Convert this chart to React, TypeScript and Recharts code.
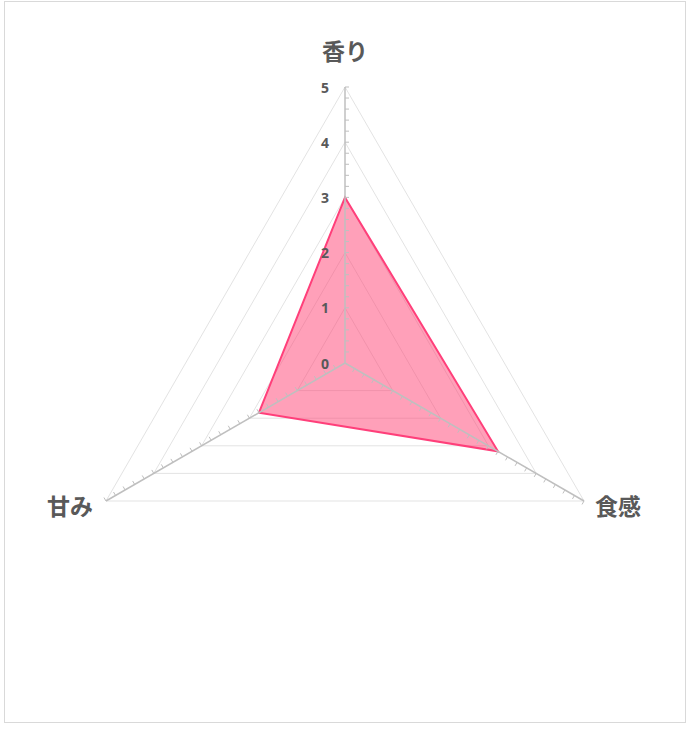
import React from "react";
import {
  PolarAngleAxis,
  PolarGrid,
  PolarRadiusAxis,
  Radar,
  RadarChart,
} from "recharts";

// categories and values (clockwise from top)
const categories: string[] = ["香り", "食感", "甘み"];
const scores: number[] = [3, 3.2, 1.8];
const majorTicks: number[] = [0, 1, 2, 3, 4, 5];
const minorStep = 0.2;

const data = categories.map((name, i) => ({ name, value: scores[i] }));

const W = 680;
const H = 720;
const CX = 340;
const CY = 361;
const R = 276;
const MAX = majorTicks[majorTicks.length - 1];

const TEXT = "#595959";
const AXIS = "#bfbfbf";
const FONT = "'Noto Sans CJK JP', 'Noto Sans', sans-serif";

const minorValues: number[] = [];
for (let i = 1; i * minorStep <= MAX + 1e-9; i++) minorValues.push(i * minorStep);

// draws the spoke (with its small tick marks) and the category label
const AngleTick = (props: any) => {
  const { x, y, payload, index, cx, cy, radius } = props;
  const angle = payload.coordinate;
  const rad = (angle * Math.PI) / 180;
  const ux = Math.cos(rad);
  const uy = -Math.sin(rad);
  // perpendicular (clockwise) for the tick marks
  const px = -uy * 4;
  const py = ux * 4;

  let tx = x;
  let ty = y;
  let anchor: "middle" | "start" | "end" = "middle";
  if (index === 0) {
    ty = y - 29;
  } else if (index === 1) {
    tx = x + 4;
    anchor = "start";
  } else {
    tx = x - 6;
    anchor = "end";
  }

  return (
    <g>
      <line
        x1={cx}
        y1={cy}
        x2={cx + ux * radius}
        y2={cy + uy * radius}
        stroke={AXIS}
        strokeWidth={1.5}
      />
      {minorValues.map((v) => {
        const r = (v / MAX) * radius;
        const bx = cx + ux * r;
        const by = cy + uy * r;
        return (
          <line key={v} x1={bx} y1={by} x2={bx + px} y2={by + py} stroke={AXIS} strokeWidth={1} />
        );
      })}
      {index === 0 &&
        majorTicks.map((t) => (
          <text
            key={t}
            x={cx - 16}
            y={cy - (t / MAX) * radius}
            textAnchor="end"
            dominantBaseline="central"
            fill={TEXT}
            fontSize={14}
            fontWeight={700}
            fontFamily="'Open Sans', sans-serif"
          >
            {t}
          </text>
        ))}
      <text
        x={tx}
        y={ty}
        textAnchor={anchor}
        dominantBaseline="central"
        fill={TEXT}
        fontSize={23}
        fontWeight={700}
        fontFamily={FONT}
      >
        {payload.value}
      </text>
    </g>
  );
};

const App: React.FC = () => (
  <div
    style={{
      position: "absolute",
      left: 4,
      top: 1,
      width: W,
      height: H,
      border: "1px solid #d9d9d9",
      background: "#fff",
    }}
  >
    <RadarChart width={W} height={H} data={data} cx={CX} cy={CY} outerRadius={R}>
      <PolarGrid
        gridType="polygon"
        stroke="#e3e3e3"
        radialLines={false}
        polarRadius={majorTicks.slice(1).map((t) => (t / MAX) * R)}
      />
      <PolarAngleAxis dataKey="name" tick={<AngleTick />} tickLine={false} axisLine={false} />
      <PolarRadiusAxis
        angle={90}
        type="number"
        domain={[0, MAX]}
        tick={false}
        axisLine={false}
      />
      <Radar
        dataKey="value"
        stroke="#ff3f7a"
        strokeWidth={2}
        fill="#ff4274"
        fillOpacity={0.5}
        dot={false}
        isAnimationActive={false}
      />
    </RadarChart>
  </div>
);

export default App;
